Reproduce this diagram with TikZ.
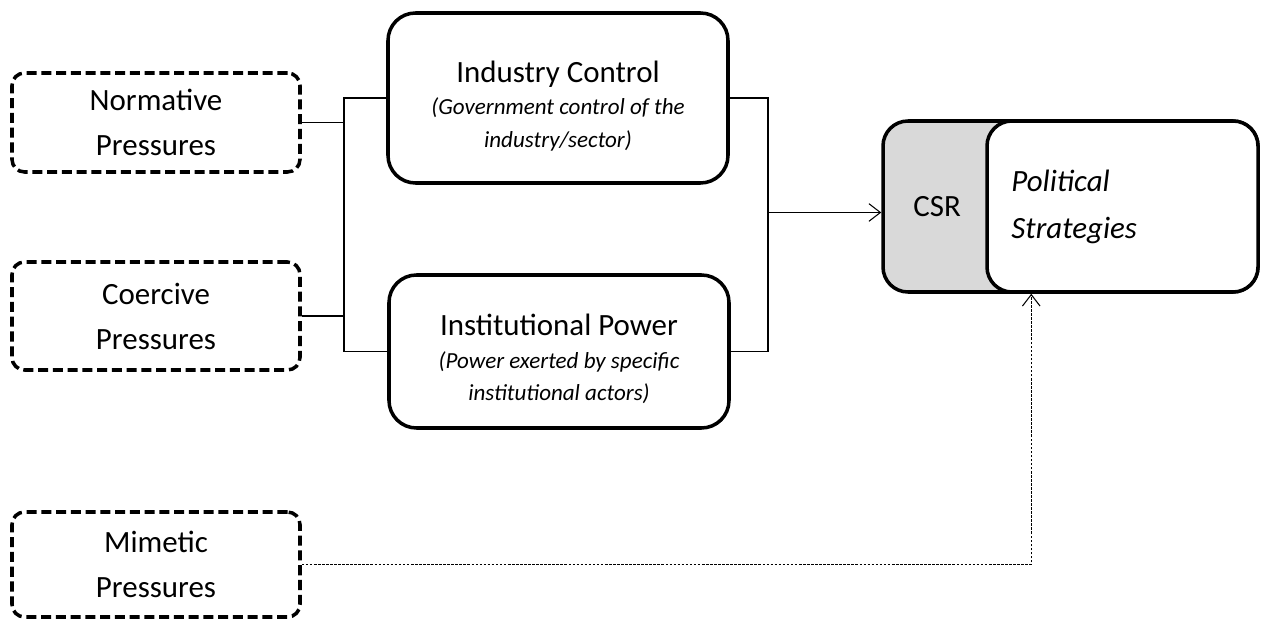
\documentclass[tikz,border=0pt]{standalone}
\usepackage{fontspec}
\setmainfont{Carlito}
\usetikzlibrary{arrows.meta, positioning}

\tikzset{
  pressure/.style={draw, line width=2pt, dash pattern=on 5.7pt off 2.7pt, rounded corners=0.25cm, minimum width=5.76cm, inner sep=0pt, align=center, font=\fontsize{17.6}{25.6}\selectfont},
  mechanism/.style={draw, line width=2pt, rounded corners=0.55cm, minimum width=6.8cm, align=center, font=\fontsize{13.1}{18.5}\selectfont\itshape},
  outcome/.style={draw, line width=2pt, rounded corners=0.5cm, minimum height=3.42cm},
  link/.style={line width=0.6pt},
  softlink/.style={line width=0.6pt, dash pattern=on 1.5pt off 0.8pt},
  headed/.style={-{Straight Barb[length=6.5pt,width=10pt]}}
}
\newcommand{\boxtitle}[1]{{\upshape\fontsize{17.6}{18.5}\selectfont\rule{0pt}{21pt}#1}}

\begin{document}
\begin{tikzpicture}
\useasboundingbox (0,0) rectangle (25.22,12.44);

% Pressures
\node [pressure, minimum height=1.98cm] (norm) at (3.12,9.99) {Normative\\Pressures};
\node [pressure, minimum height=2.16cm] (coer) at (3.12,6.12) {Coercive\\Pressures};
\node [pressure, minimum height=2.1cm] (mim) at (3.12,1.15) {Mimetic\\Pressures};

% Mechanisms
\node [mechanism, minimum height=3.4cm] (ind) at (11.16,10.48) {\boxtitle{Industry Control}\\(Government control of the\\industry/sector)};
\node [mechanism, minimum height=3.06cm] (inst) at (11.18,5.41) {\boxtitle{Institutional Power}\\(Power exerted by specific\\institutional actors)};

% Outcome
\node [outcome, fill=gray!30, minimum width=7.5cm] (csr) at (21.41,8.31) {};
\node [outcome, fill=white, minimum width=5.42cm, anchor=east] (strat) at (csr.east) {};
\node [right=0.52cm of csr.west, font=\fontsize{17.6}{21}\selectfont] (csrtext) {CSR};
\node [right=0.4cm of strat.west, align=left, font=\fontsize{17.6}{26.7}\selectfont\itshape] (strattext) {Political\\Strategies};

% Connectors
\coordinate (leftbus) at (6.88,0);
\coordinate (rightbus) at (15.36,0);
\draw [link] (norm.east) -- (norm.east -| leftbus);
\draw [link] (coer.east) -- (coer.east -| leftbus);
\draw [link] (ind.west) -| (leftbus |- inst.west) -- (inst.west);
\draw [link] (ind.east) -| (rightbus |- inst.east) -- (inst.east);
\draw [link, headed] ([yshift=-0.12cm]rightbus |- csr.west) -- ([yshift=-0.12cm]csr.west);
\draw [softlink, headed] (mim.east) -| ([xshift=0.92cm]strat.south west);

\end{tikzpicture}
\end{document}
